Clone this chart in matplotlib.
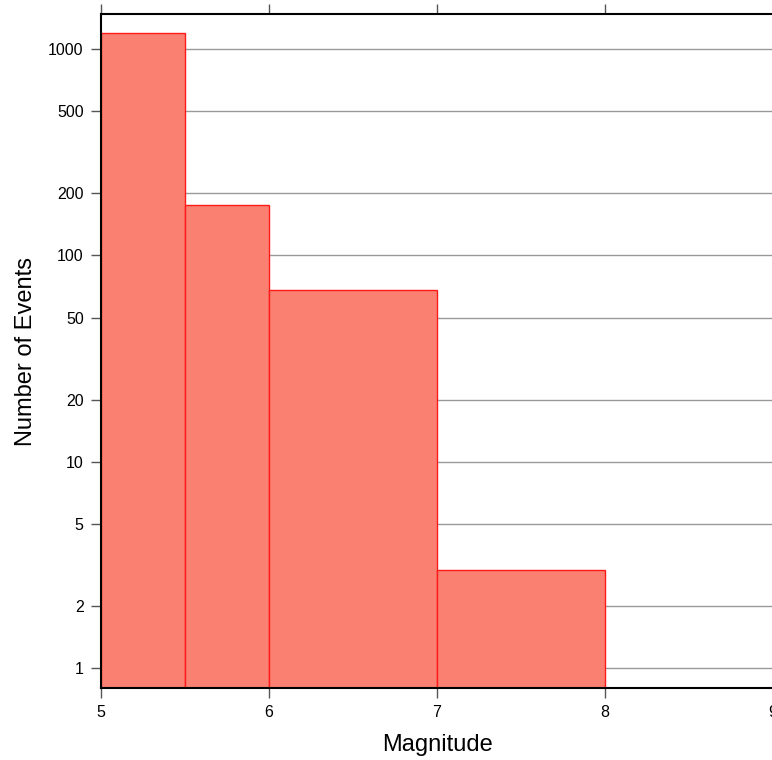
import matplotlib
matplotlib.use("Agg")
import matplotlib.pyplot as plt
from matplotlib.ticker import FixedLocator, NullLocator

plt.rcParams['font.family'] = ['Liberation Sans', 'DejaVu Sans']

bin_edges = [5.0, 5.5, 6.0, 7.0, 8.0]
counts = [1200, 175, 68, 3]
y_ticks = [1, 2, 5, 10, 20, 50, 100, 200, 500, 1000]
x_ticks = [5, 6, 7, 8, 9]

fig = plt.figure(figsize=(7.72, 7.6), dpi=100)
ax = fig.add_axes([101/772, 72/760, 672/772, 674/760])

ax.set_yscale('log')
ax.set_xlim(5, 9)
ax.set_ylim(0.8, 1480)

lefts = bin_edges[:-1]
widths = [b - a for a, b in zip(bin_edges[:-1], bin_edges[1:])]
ax.bar(lefts, counts, width=widths, align='edge', bottom=0.0001,
       color='#FA8072', edgecolor='#FF1A1A', linewidth=1.0, zorder=3)

ax.yaxis.set_major_locator(FixedLocator(y_ticks))
ax.yaxis.set_minor_locator(NullLocator())
ax.set_yticklabels([str(v) for v in y_ticks])
ax.xaxis.set_major_locator(FixedLocator(x_ticks))
ax.set_xticklabels([str(v) for v in x_ticks])

ax.grid(axis='y', color='#999999', linewidth=1.0, zorder=1)
ax.set_axisbelow(True)

for s in ['top', 'bottom', 'left']:
    ax.spines[s].set_color('black')
    ax.spines[s].set_linewidth(1.5)
    ax.spines[s].set_zorder(4)
ax.spines['right'].set_visible(False)

ax.tick_params(axis='both', direction='out', length=7, width=1, color='#555555',
               labelsize=11.5, pad=5.5)
ax.tick_params(axis='x', top=True, labeltop=False)

ax.set_xlabel('Magnitude', fontsize=17, labelpad=10)
ax.set_ylabel('Number of Events', fontsize=17, labelpad=8)

fig.savefig('out.png', dpi=100)
